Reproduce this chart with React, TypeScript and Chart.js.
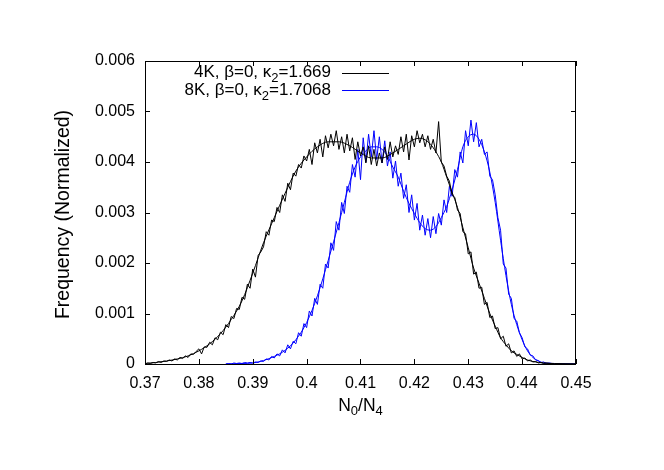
import React, { useEffect, useRef } from "react";
import { Chart, registerables } from "chart.js";

Chart.register(...registerables);

const FONT = '"Liberation Sans", Arial, Helvetica, sans-serif';

// Histogram bins (bin centres start + i*width)
const BIN_START_4K = 0.37;
const BIN_START_8K = 0.385;
const BIN_WIDTH = 0.0005;

const hist4K = [
  0, 0.00002, 0.00001, 0.00003, 0.00002, 0.00005, 0.00003, 0.00006, 0.00005, 0.00008,
  0.00006, 0.0001, 0.00008, 0.00013, 0.00011, 0.00016, 0.00013, 0.0002, 0.00019, 0.00025,
  0.0003, 0.0002, 0.00034, 0.00033, 0.00043, 0.00038, 0.00052, 0.00048, 0.00063, 0.00058,
  0.00078, 0.00072, 0.00094, 0.0009, 0.0011, 0.00108, 0.00132, 0.00128, 0.00158, 0.0015,
  0.00188, 0.00172, 0.00215, 0.00222, 0.00232, 0.00262, 0.00255, 0.00285, 0.00282, 0.0031,
  0.003, 0.00335, 0.00322, 0.00358, 0.00345, 0.00378, 0.00372, 0.00395, 0.00388, 0.00412,
  0.00402, 0.00425, 0.00395, 0.00438, 0.00418, 0.00445, 0.0041, 0.00452, 0.00428, 0.00455,
  0.00432, 0.00462, 0.00425, 0.0045, 0.00418, 0.00455, 0.00422, 0.00448, 0.00405, 0.0044,
  0.00412, 0.0043, 0.00398, 0.00432, 0.00395, 0.00425, 0.00392, 0.00418, 0.00398, 0.0043,
  0.00405, 0.0044, 0.0041, 0.00432, 0.00415, 0.0045, 0.0042, 0.00455, 0.00404, 0.00452,
  0.0043, 0.00462, 0.00438, 0.00455, 0.0043, 0.00452, 0.00425, 0.00445, 0.00418, 0.0048,
  0.004, 0.00392, 0.00372, 0.00362, 0.00335, 0.0033, 0.00305, 0.00298, 0.00262, 0.00258,
  0.00218, 0.00222, 0.00178, 0.00182, 0.0015, 0.00152, 0.00118, 0.00122, 0.00092, 0.00095,
  0.0007, 0.00072, 0.0005, 0.00055, 0.00035, 0.0004, 0.00022, 0.00026, 0.00015, 0.0002,
  0.0001, 0.00012, 0.00006, 0.00008, 0.00004, 0.00005, 0.00002, 0.00003, 0.00001, 0.00002,
  0.00001, 0.00001, 0, 0, 0, 0, 0, 0, 0, 0,
  0,
];

const hist8K = [
  0, 0.00001, 0, 0.00002, 0.00001, 0.00002, 0.00001, 0.00003, 0.00002, 0.00003,
  0.00002, 0.00004, 0.00003, 0.00006, 0.00005, 0.0001, 0.00008, 0.00015, 0.00012, 0.0002,
  0.00016, 0.00028, 0.00022, 0.00038, 0.0003, 0.00045, 0.0004, 0.00062, 0.00055, 0.0008,
  0.00072, 0.00105, 0.00095, 0.0013, 0.00118, 0.00158, 0.0015, 0.00198, 0.0019, 0.0024,
  0.00225, 0.00282, 0.00265, 0.0032, 0.00298, 0.00352, 0.0034, 0.00395, 0.0037, 0.00425,
  0.00365, 0.00448, 0.004, 0.00455, 0.0041, 0.00462, 0.00405, 0.0045, 0.00398, 0.00442,
  0.00392, 0.0042, 0.00368, 0.00402, 0.00352, 0.00378, 0.00328, 0.00355, 0.003, 0.00335,
  0.00285, 0.00318, 0.00265, 0.00295, 0.00255, 0.00288, 0.0025, 0.00292, 0.00258, 0.00298,
  0.00275, 0.00325, 0.003, 0.00352, 0.00332, 0.00385, 0.0037, 0.0042, 0.00398, 0.00462,
  0.00432, 0.00483, 0.0044, 0.00478, 0.0043, 0.00445, 0.00415, 0.0042, 0.00372, 0.00365,
  0.00335, 0.0029, 0.00265, 0.00198, 0.0019, 0.00138, 0.0013, 0.0009, 0.00085, 0.00062,
  0.00052, 0.00034, 0.0003, 0.00018, 0.00016, 0.00008, 0.00007, 0.00003, 0.00004, 0.00001,
  0.00002, 0.00001, 0.00001, 0, 0.00001, 0, 0, 0, 0, 0,
  0,
];

const fit4KX = [
  0.37, 0.372, 0.374, 0.376, 0.378, 0.38, 0.382, 0.384, 0.386, 0.388, 0.39, 0.392, 0.394,
  0.396, 0.398, 0.4, 0.402, 0.404, 0.406, 0.408, 0.41, 0.412, 0.414, 0.416, 0.418, 0.42,
  0.421, 0.422, 0.423, 0.424, 0.425, 0.426, 0.427, 0.428, 0.429, 0.43, 0.431, 0.432, 0.433,
  0.434, 0.435, 0.436, 0.437, 0.438, 0.439, 0.44, 0.441, 0.442, 0.444, 0.446, 0.45,
];
const fit4KY = [
  0.00001, 0.00003, 0.00006, 0.0001, 0.00016, 0.00026, 0.0004, 0.0006, 0.00088, 0.00125,
  0.0018, 0.0024, 0.0029, 0.00338, 0.00382, 0.0041, 0.0043, 0.0044, 0.0044, 0.00432,
  0.00418, 0.00408, 0.00408, 0.00418, 0.00432, 0.00445,
  0.00447, 0.00444, 0.00435, 0.0042, 0.004, 0.0037, 0.0034, 0.0031, 0.0027, 0.0023,
  0.0019, 0.0016, 0.0013, 0.001, 0.00075, 0.00052, 0.00038, 0.00026, 0.00019, 0.00013,
  0.00008, 0.00005, 0.00002, 0.00001, 0,
];

const fit8KX = [
  0.385, 0.388, 0.39, 0.392, 0.394, 0.396, 0.398, 0.4, 0.402, 0.404, 0.406,
  0.407, 0.408, 0.409, 0.41, 0.411, 0.412, 0.413, 0.414, 0.415, 0.416, 0.417, 0.418,
  0.419, 0.42, 0.421, 0.422, 0.423, 0.424, 0.425, 0.426, 0.427, 0.428, 0.429, 0.43,
  0.431, 0.432, 0.433, 0.434, 0.435, 0.436, 0.437, 0.438, 0.439, 0.44, 0.441, 0.442,
  0.443, 0.444, 0.446, 0.45,
];
const fit8KY = [
  0, 0.00001, 0.00002, 0.00007, 0.00015, 0.00027, 0.00048, 0.00082, 0.00135, 0.00205, 0.0028,
  0.0032, 0.0036, 0.0039, 0.0041, 0.00422, 0.0043, 0.0043, 0.00425, 0.00412, 0.0039, 0.0037,
  0.00342, 0.00318, 0.00298, 0.0028, 0.00268, 0.00265, 0.00272, 0.0029, 0.00312, 0.00345,
  0.00385, 0.0043, 0.0045, 0.00455, 0.00445, 0.0042, 0.0038, 0.0032, 0.00245, 0.00175,
  0.00118, 0.00078, 0.00048, 0.00026, 0.00013, 0.00006, 0.00002, 0.00001, 0,
];

const xTicks = [0.37, 0.38, 0.39, 0.4, 0.41, 0.42, 0.43, 0.44, 0.45];
const yTicks = [0, 0.001, 0.002, 0.003, 0.004, 0.005, 0.006];

type Part = { t: string; sub?: boolean };
const legendItems: { parts: Part[]; color: string }[] = [
  { parts: [{ t: "4K, β=0, κ" }, { t: "2", sub: true }, { t: "=1.669" }], color: "rgb(0,0,0)" },
  { parts: [{ t: "8K, β=0, κ" }, { t: "2", sub: true }, { t: "=1.7068" }], color: "rgb(0,0,255)" },
];
const xTitle: Part[] = [{ t: "N" }, { t: "0", sub: true }, { t: "/N" }, { t: "4", sub: true }];
const yTitle = "Frequency (Normalized)";

function drawRich(
  ctx: CanvasRenderingContext2D,
  parts: Part[],
  x: number,
  y: number,
  align: string,
  size: number,
  subSize: number,
  subOff: number
) {
  const main = `${size}px ${FONT}`;
  const sub = `${subSize}px ${FONT}`;
  let w = 0;
  parts.forEach((p) => {
    ctx.font = p.sub ? sub : main;
    w += ctx.measureText(p.t).width;
  });
  let cx = align === "right" ? x - w : align === "center" ? x - w / 2 : x;
  ctx.textAlign = "left";
  ctx.textBaseline = "alphabetic";
  parts.forEach((p) => {
    ctx.font = p.sub ? sub : main;
    ctx.fillText(p.t, cx, y + (p.sub ? subOff : 0));
    cx += ctx.measureText(p.t).width;
  });
}

const frame = {
  id: "gnuplotFrame",
  afterDraw(chart: any) {
    const ctx: CanvasRenderingContext2D = chart.ctx;
    const { left, right, top, bottom } = chart.chartArea;
    const xs = chart.scales.x;
    const ys = chart.scales.y;
    ctx.save();
    ctx.strokeStyle = "#000";
    ctx.lineWidth = 1;
    ctx.strokeRect(left + 0.5, top + 0.5, right - left - 1, bottom - top);
    const tl = 5;
    ctx.beginPath();
    xTicks.forEach((v) => {
      const px = Math.round(xs.getPixelForValue(v)) + 0.5;
      ctx.moveTo(px, bottom);
      ctx.lineTo(px, bottom - tl);
      ctx.moveTo(px, top);
      ctx.lineTo(px, top + tl);
    });
    yTicks.forEach((v) => {
      const py = Math.round(ys.getPixelForValue(v)) + 0.5;
      ctx.moveTo(left, py);
      ctx.lineTo(left + tl, py);
      ctx.moveTo(right, py);
      ctx.lineTo(right - tl, py);
    });
    ctx.stroke();

    // legend
    legendItems.forEach((it, i) => {
      const yb = 77 + i * 18;
      ctx.fillStyle = "#000";
      drawRich(ctx, it.parts, 331, yb, "right", 17, 13, 5);
      ctx.fillStyle = it.color;
      ctx.fillRect(342, i === 0 ? 73 : 90, 47, 1);
    });
    // x title
    ctx.fillStyle = "#000";
    drawRich(ctx, xTitle, (left + right) / 2, 411, "center", 17.5, 13, 4);
    // y title
    ctx.translate(69, (top + bottom) / 2 + 2);
    ctx.rotate(-Math.PI / 2);
    ctx.font = `19.5px ${FONT}`;
    ctx.textAlign = "center";
    ctx.textBaseline = "alphabetic";
    ctx.fillText(yTitle, 0, 0);
    ctx.restore();
  },
};

export default function App() {
  const ref = useRef<HTMLCanvasElement>(null);
  useEffect(() => {
    if (!ref.current) return;
    const histPts = (start: number, arr: number[]) =>
      arr.map((y, i) => ({ x: Number((start + i * BIN_WIDTH).toFixed(5)), y }));
    const fitPts = (xs: number[], ys: number[]) => xs.map((x, i) => ({ x, y: ys[i] }));
    const chart = new Chart(ref.current, {
      type: "scatter",
      data: {
        datasets: [
          { data: histPts(BIN_START_4K, hist4K), borderColor: "#000000", borderWidth: 1, showLine: true, pointRadius: 0 },
          { data: fitPts(fit4KX, fit4KY), borderColor: "#000000", borderWidth: 1, showLine: true, pointRadius: 0, cubicInterpolationMode: "monotone" },
          { data: histPts(BIN_START_8K, hist8K), borderColor: "#0000ff", borderWidth: 1, showLine: true, pointRadius: 0 },
          { data: fitPts(fit8KX, fit8KY), borderColor: "#0000ff", borderWidth: 1, showLine: true, pointRadius: 0, cubicInterpolationMode: "monotone" },
        ] as any,
      },
      options: {
        animation: false,
        responsive: false,
        devicePixelRatio: 1,
        layout: { padding: { top: 61, right: 88, left: 0, bottom: 0 } },
        plugins: { legend: { display: false }, tooltip: { enabled: false } },
        scales: {
          x: {
            type: "linear",
            min: 0.37,
            max: 0.45,
            afterFit: (s: any) => { s.height = 106; },
            afterBuildTicks: (s: any) => { s.ticks = xTicks.map((v) => ({ value: v })); },
            ticks: {
              color: "#000",
              font: { family: FONT, size: 16 },
              padding: 10,
              maxRotation: 0,
              autoSkip: false,
              callback: (v: any) => String(Number(Number(v).toFixed(2))),
            },
            grid: { display: false, drawTicks: false, tickLength: 0 },
            border: { display: false },
          },
          y: {
            type: "linear",
            min: 0,
            max: 0.006,
            afterFit: (s: any) => { s.width = 145; },
            afterBuildTicks: (s: any) => { s.ticks = yTicks.map((v) => ({ value: v })); },
            ticks: {
              color: "#000",
              font: { family: FONT, size: 16 },
              padding: 10,
              autoSkip: false,
              callback: (v: any) => String(Number(Number(v).toFixed(3))),
            },
            grid: { display: false, drawTicks: false, tickLength: 0 },
            border: { display: false },
          },
        },
      },
      plugins: [frame],
    });
    return () => chart.destroy();
  }, []);
  return (
    <div style={{ position: "absolute", left: 0, top: 0, width: 664, height: 470, background: "#fff" }}>
      <canvas ref={ref} width={664} height={470} style={{ display: "block" }} />
    </div>
  );
}
